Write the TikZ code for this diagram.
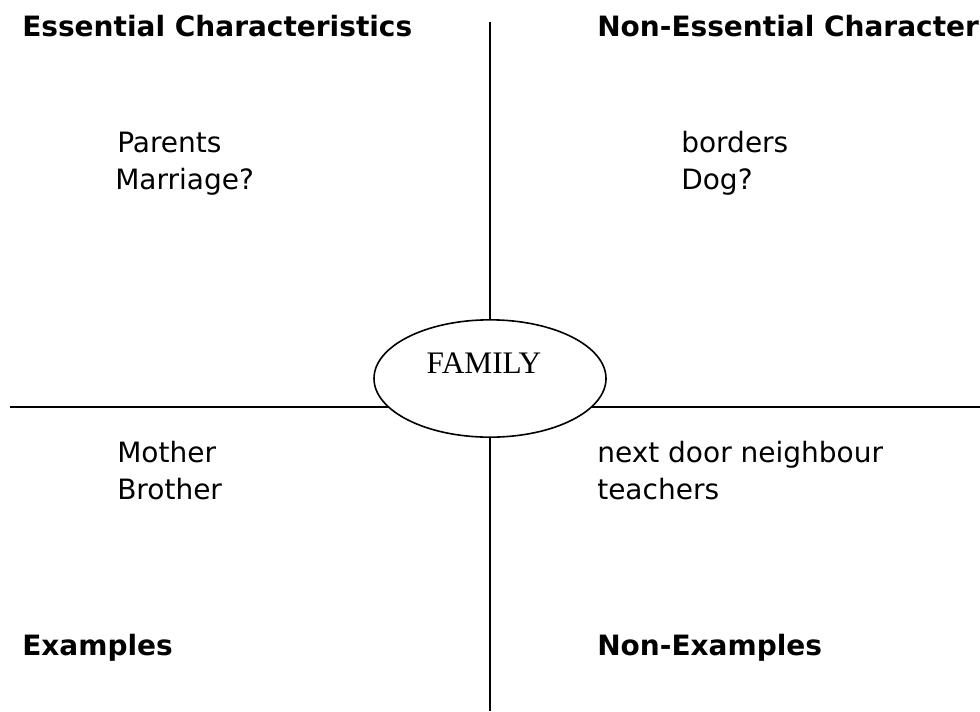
\documentclass[tikz,border=0pt]{standalone}
\usepackage{fontspec}
\setmainfont{DejaVu Sans}
\newfontfamily\wordfont{Liberation Serif}
\usetikzlibrary{shapes.geometric}

\begin{document}
\begin{tikzpicture}[x=0.75pt, y=-0.75pt, line join=round,
    heading/.style={anchor=base west, inner sep=0pt,
        font=\bfseries\fontsize{21}{25}\selectfont},
    entry/.style={anchor=base west, inner sep=0pt,
        font=\fontsize{21}{25}\selectfont}]

    % Page frame (units are pixels, y pointing down)
    \useasboundingbox (0,0) rectangle (980,711);
    \clip (0,0) rectangle (980,711);

    % Ends of the two dividing lines
    \coordinate (top)    at (490, 22);
    \coordinate (bottom) at (490, 711);
    \coordinate (left)   at (10, 407);
    \coordinate (right)  at (980, 407);

    % Dividing lines (thin black)
    \draw[line width=1.1pt] (top) -- (bottom);
    \draw[line width=1.1pt] (left) -- (right);

    % Centre word in a white ellipse, drawn over the lines
    \node[ellipse, draw, fill=white, line width=1.2pt,
          minimum width=174pt, minimum height=88pt] (family) at (490, 378.5) {};
    \node[anchor=base, inner sep=0pt, font=\wordfont\fontsize{23.5}{28}\selectfont]
        (familylabel) at (484, 373) {FAMILY};

    % Quadrant headings
    \node[heading] (essential)    at (22, 36)  {Essential Characteristics};
    \node[heading] (nonessential) at (597, 36) {Non-Essential Characteristics};
    \node[heading] (examples)     at (22, 655) {Examples};
    \node[heading] (nonexamples)  at (597, 655) {Non-Examples};

    % Entries, top left
    \node[entry] (parents)  at (117, 152) {Parents};
    \node[entry] (marriage) at (115, 189) {Marriage?};

    % Entries, top right
    \node[entry] (borders) at (681, 152) {borders};
    \node[entry] (dog)     at (681, 189) {Dog?};

    % Entries, bottom left
    \node[entry] (mother)  at (117, 462) {Mother};
    \node[entry] (brother) at (117, 499) {Brother};

    % Entries, bottom right
    \node[entry] (neighbour) at (597, 462) {next door neighbour};
    \node[entry] (teachers)  at (597, 499) {teachers};

\end{tikzpicture}
\end{document}
